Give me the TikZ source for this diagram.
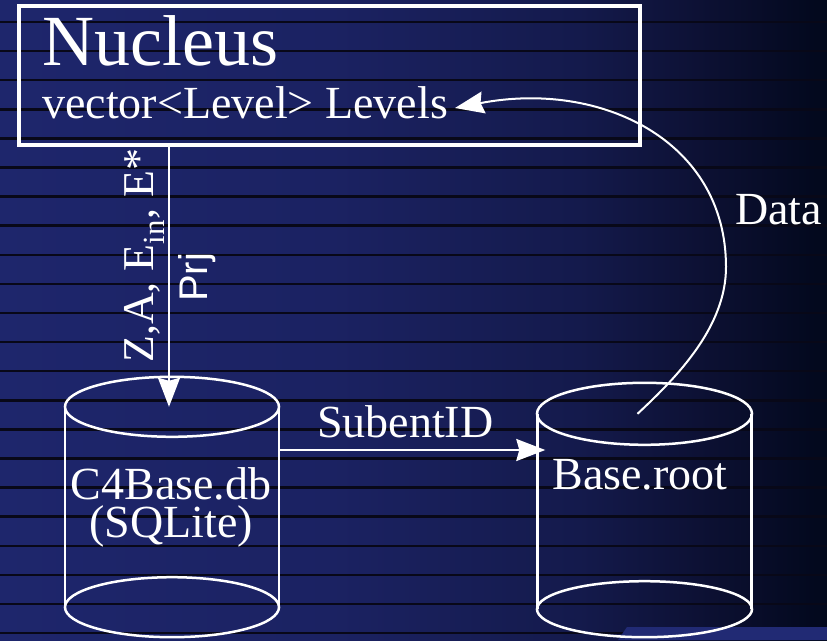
\documentclass[tikz,border=0pt]{standalone}
\usepackage{fontspec}
\setmainfont{Liberation Serif}
\newfontfamily\sansf{Liberation Sans}
\usetikzlibrary{arrows.meta,calc}
\definecolor{bgA}{RGB}{30,38,108}
\definecolor{bgB}{RGB}{27,34,98}
\definecolor{bgC}{RGB}{20,26,76}
\definecolor{bgD}{RGB}{12,16,50}
\definecolor{bgE}{RGB}{2,8,28}
\definecolor{bgline}{RGB}{8,8,24}
\definecolor{patchcol}{RGB}{33,42,116}
\pgfdeclarehorizontalshading{bgshade}{100bp}{color(0bp)=(bgA); color(25bp)=(bgA); color(45bp)=(bgB); color(60bp)=(bgC); color(68bp)=(bgD); color(75bp)=(bgE); color(100bp)=(bgE)}
\tikzset{
  txt/.style={text=white, inner sep=0pt, font=\fontsize{46}{38}\selectfont},
  conn/.style={draw=white, line width=2pt, -{Stealth[length=29pt,width=22pt,inset=3pt]}},
  cyl/.style={draw=white, line width=2.5pt},
  cylbody/.style={inner sep=0pt, minimum width=214pt},
  bgstripe/.style={draw=bgline, line width=2.5pt}
}
\begin{document}
\begin{tikzpicture}[x=1pt,y=-1pt]
\useasboundingbox (0,0) rectangle (827,640);
\shade[shading=bgshade] (0,0) rectangle (827,640);
\foreach \k in {0,...,21} \draw[bgstripe] (0,{22+29.1*\k}) -- (827,{22+29.1*\k});
\fill[patchcol] (618,640) -- (627,627) -- (827,627) -- (827,640) -- cycle;

% Nucleus box
\node[draw=white, line width=3.5pt, minimum width=621pt, minimum height=139pt, inner sep=0pt] (nuc) at (329.5,75.5) {};
\node[txt, anchor=base west, font=\fontsize{72}{72}\selectfont] (nt) at (42,65) {Nucleus};
\node[txt, anchor=base west] (lv) at (42,118) {vector<Level> Levels};

% cylinders
\node[cylbody, minimum height=200pt] (db) at (172,507) {};
\draw[cyl] (db.north west) -- (db.south west) (db.north east) -- (db.south east);
\draw[cyl] (db.north) ellipse [x radius=107, y radius=30];
\draw[cyl] (db.south) ellipse [x radius=107, y radius=30];
\node[txt, align=center, anchor=center] (dbt) at (171,507) {C4Base.db\\(SQLite)};

\node[cylbody, minimum height=195pt] (root) at (644.5,511.5) {};
\draw[cyl] (root.north west) -- (root.south west) (root.north east) -- (root.south east);
\draw[cyl] (root.north) ellipse [x radius=107.5, y radius=31];
\draw[cyl] (root.south) ellipse [x radius=107.5, y radius=28];
\node[txt, anchor=base] (rt) at (640,489) {Base.root};

% labels
\node[txt, rotate=90, anchor=base west, font=\fontsize{44}{44}\selectfont] (za) at (153,363) {Z,A, E\textsubscript{in}, E*};
\node[txt, rotate=90, anchor=base west, font=\sansf\fontsize{40}{40}\selectfont] (prj) at (207,302) {Prj};
\node[txt, anchor=base west] (sub) at (317,437) {SubentID};
\node[txt, anchor=base west] (data) at (735,224) {Data};

% connectors
\coordinate (dbin) at ([xshift=-3pt]db.north);
\draw[conn] (dbin |- nuc.south) -- (dbin);
\coordinate (row) at (0,450);
\draw[conn] (db.east |- row) -- ([xshift=8pt]root.west |- row);
\coordinate (dend) at (455,108);
\draw[conn] ([xshift=-7pt]root.north) .. controls (677,377) and (726,327) .. (726,267)
  .. controls (726,140) and (600,80) .. (dend);
\end{tikzpicture}
\end{document}
